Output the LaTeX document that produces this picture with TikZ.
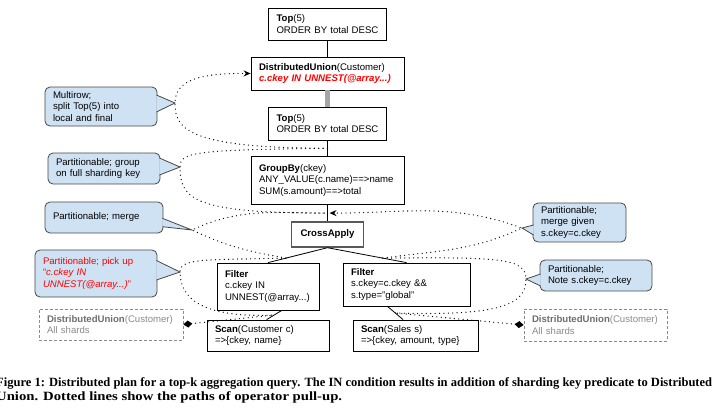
\documentclass[tikz,border=0pt]{standalone}
\usepackage{fontspec}
\setmainfont{Liberation Sans}
\newfontfamily\capfont{Liberation Serif}
\usepackage{graphicx}
\usetikzlibrary{arrows.meta,calc}
\definecolor{callfill}{HTML}{CFE2F3}
\definecolor{callline}{HTML}{474747}
\definecolor{hotred}{HTML}{FF0000}
\definecolor{shardtext}{HTML}{8A8A8A}
\definecolor{shardbold}{HTML}{6E6E6E}
\definecolor{pullgray}{HTML}{A6A6A6}
\newsavebox\caplineone
\newsavebox\caplinetwo
\newcommand\capstyle{\capfont\bfseries\fontsize{12.6}{14}\selectfont}
\AtBeginDocument{%
  \sbox\caplineone{\capstyle Figure 1: Distributed plan for a top-k aggregation query. The IN condition results in addition of sharding key predicate to Distributed}%
  \sbox\caplinetwo{\capstyle Union. Dotted lines show the paths of operator pull-up.}%
  \pgfmathsetmacro\capsxone{716/\the\wd\caplineone}%
  \pgfmathsetmacro\capsxtwo{346/\the\wd\caplinetwo}}

\begin{document}
\begin{tikzpicture}[x=1pt, y=-1pt,
  font=\fontsize{9.6}{11.4}\selectfont,
  op/.style = {draw, line width=0.8pt, align=left, inner xsep=8pt, inner ysep=0pt},
  shard/.style = {draw=shardtext, line width=0.8pt, dash pattern=on 3pt off 2pt, text=shardtext, align=left, inner xsep=8pt, inner ysep=0pt},
  note/.style = {draw=callline, fill=callfill, line width=0.8pt, rounded corners=5pt, align=left, inner xsep=8pt, inner ysep=0pt},
  tail/.style = {draw=callline, fill=callfill, line width=0.8pt, line join=miter},
  link/.style = {line width=0.8pt},
  pullup/.style = {line width=1.3pt, line cap=round, dash pattern=on 0pt off 4.4pt},
  pullarrow/.style = {-{Stealth[length=7pt,width=6pt]}},
  shardtip/.style = {{Diamond[length=9pt,width=7pt]}-}]
\useasboundingbox (0,0) rectangle (718,416);

% operator tree
\node (top1) [op, text width=102, minimum height=32] at (327.5,24) {\textbf{Top}(5)\\ORDER BY total DESC};
\node (du) [op, text width=137, minimum height=33] at (327.5,73.5) {\textbf{DistributedUnion}(Customer)\\\textcolor{hotred}{\textbf{\textit{c.ckey IN UNNEST(@array...)}}}};
\node (top2) [op, text width=102, minimum height=33] at (327.5,123.5) {\textbf{Top}(5)\\ORDER BY total DESC};
\node (grp) [op, text width=137, minimum height=48] at (327.5,180.5) {\textbf{GroupBy}(ckey)\\ANY\_VALUE(c.name)==>name\\SUM(s.amount)==>total};
\node (cross) [op, draw=black!65, line width=1.4pt, minimum width=72, minimum height=25] at (327.5,234.5) {\textbf{CrossApply}};
\node (f1) [op, text width=86, minimum height=47] at (268,286.5) {\textbf{Filter}\\c.ckey IN\\UNNEST(@array...)};
\node (f2) [op, text width=111, minimum height=43] at (406.5,284.5) {\textbf{Filter}\\s.ckey=c.ckey \&\&\\s.type="global"};
\node (s1) [op, text width=106, minimum height=31] at (268,335.5) {\textbf{Scan}(Customer c)\\=>\{ckey, name\}};
\node (s2) [op, text width=109, minimum height=31] at (415.5,335.5) {\textbf{Scan}(Sales s)\\=>\{ckey, amount, type\}};

% shards
\node (dul) [shard, text width=128, minimum height=31] at (111,324.5) {\textcolor{shardbold}{\textbf{DistributedUnion}}(Customer)\\All shards};
\node (dur) [shard, text width=127, minimum height=32] at (595.5,325) {\textcolor{shardbold}{\textbf{DistributedUnion}}(Customer)\\All shards};

\draw[link] (top1.south) -- (du.north);
\draw[line width=5pt, pullgray] (du.south) -- (top2.north);
\draw[link] (top2.south) -- (grp.north);
\draw[link] (grp.south) -- (cross.north);
\draw[link] (cross.south) -- (f1.north);
\draw[link] (cross.south) -- (f2.north);
\draw[link] (f1.-60) -- (s1.95);
\draw[link] (f2.229) -- (s2.128);

% points on the tree and callout tips
\coordinate (j1) at ($(top2.south)!0.5!(grp.north)$);
\coordinate (j2) at ($(grp.south)!0.5!(cross.north)$);
\coordinate (k1) at ($(cross.south)!0.7!(f1.north)$);
\coordinate (k2) at ($(cross.south)!0.7!(f2.north)$);
\coordinate (l1) at ($(f1.-60)!0.5!(s1.95)$);
\coordinate (l2) at ($(f2.229)!0.5!(s2.128)$);
\coordinate (t1) at (175,103);
\coordinate (t2) at (180,167);
\coordinate (t3) at (192,230);
\coordinate (t4) at (180,272);
\coordinate (t5) at (522,228);
\coordinate (t6) at (526,279);

% pull-up paths
\draw[pullup, pullarrow] (j1) .. controls (185,148) and (175,128) .. (t1) .. controls (175,80) and (200,73) .. (du.west);
\draw[pullup] (j1) .. controls (195,150) and (180,152) .. (t2) .. controls (180,200) and (195,213) .. (j2);
\draw[pullup] (k1) to[out=170,in=-25] (t3) to[out=25,in=180] (j2);
\draw[pullup] (k1) .. controls (205,260) and (180,258) .. (t4) .. controls (180,300) and (205,318) .. (l1);
\draw[pullup, pullarrow] (k2) to[out=8,in=205] (t5) to[out=160,in=0] ($(j2)+(2,0)$);
\draw[pullup] (k2) .. controls (500,257) and (526,258) .. (t6) .. controls (526,305) and (500,316) .. (l2);
\draw[pullup, shardtip] (dul.east) -- (l1);
\draw[pullup, shardtip] (dur.west) -- (l2);

% callouts
\node (c1) [note, text width=96, minimum height=39] at (101,106.5) {Multirow;\\split Top(5) into\\local and final};
\node (c2) [note, text width=96, minimum height=31] at (104,168.5) {Partitionable; group\\on full sharding key};
\node (c3) [note, text width=102, minimum height=31] at (104,217.5) {Partitionable; merge};
\node (c4) [note, text width=106, minimum height=47, text=hotred] at (96,273.5) {Partitionable; pick up\\“\textit{c.ckey IN}\\\textit{UNNEST(@array...)}”};
\node (c5) [note, text width=77, minimum height=39] at (579.5,222.5) {Partitionable;\\merge given\\s.ckey=c.ckey};
\node (c6) [note, text width=96, minimum height=31] at (596,275.5) {Partitionable;\\Note s.ckey=c.ckey};
\filldraw[tail] ([xshift=-1,yshift=11.5]c1.east) -- (t1) -- ([xshift=-1,yshift=-5.5]c1.east);
\filldraw[tail] ([xshift=-1,yshift=10.5]c2.east) -- (t2) -- ([xshift=-1,yshift=-6.5]c2.east);
\filldraw[tail] ([xshift=-1,yshift=-0.8]c3.east) -- (t3) -- ([xshift=-1,yshift=-9.2]c3.east);
\filldraw[tail] ([xshift=-1,yshift=13]c4.east) -- (t4) -- ([xshift=-1,yshift=-6.5]c4.east);
\filldraw[tail] ([xshift=1,yshift=-2.5]c5.west) -- (t5) -- ([xshift=1,yshift=-12.5]c5.west);
\filldraw[tail] ([xshift=1,yshift=1.5]c6.west) -- (t6) -- ([xshift=1,yshift=-10.5]c6.west);

% caption
\node (cap1) [anchor=base west, inner sep=0pt] at (-4,386) {\scalebox{\capsxone}[1]{\usebox\caplineone}};
\node (cap2) [anchor=base west, inner sep=0pt] at (-4,400) {\scalebox{\capsxtwo}[1]{\usebox\caplinetwo}};
\end{tikzpicture}
\end{document}
